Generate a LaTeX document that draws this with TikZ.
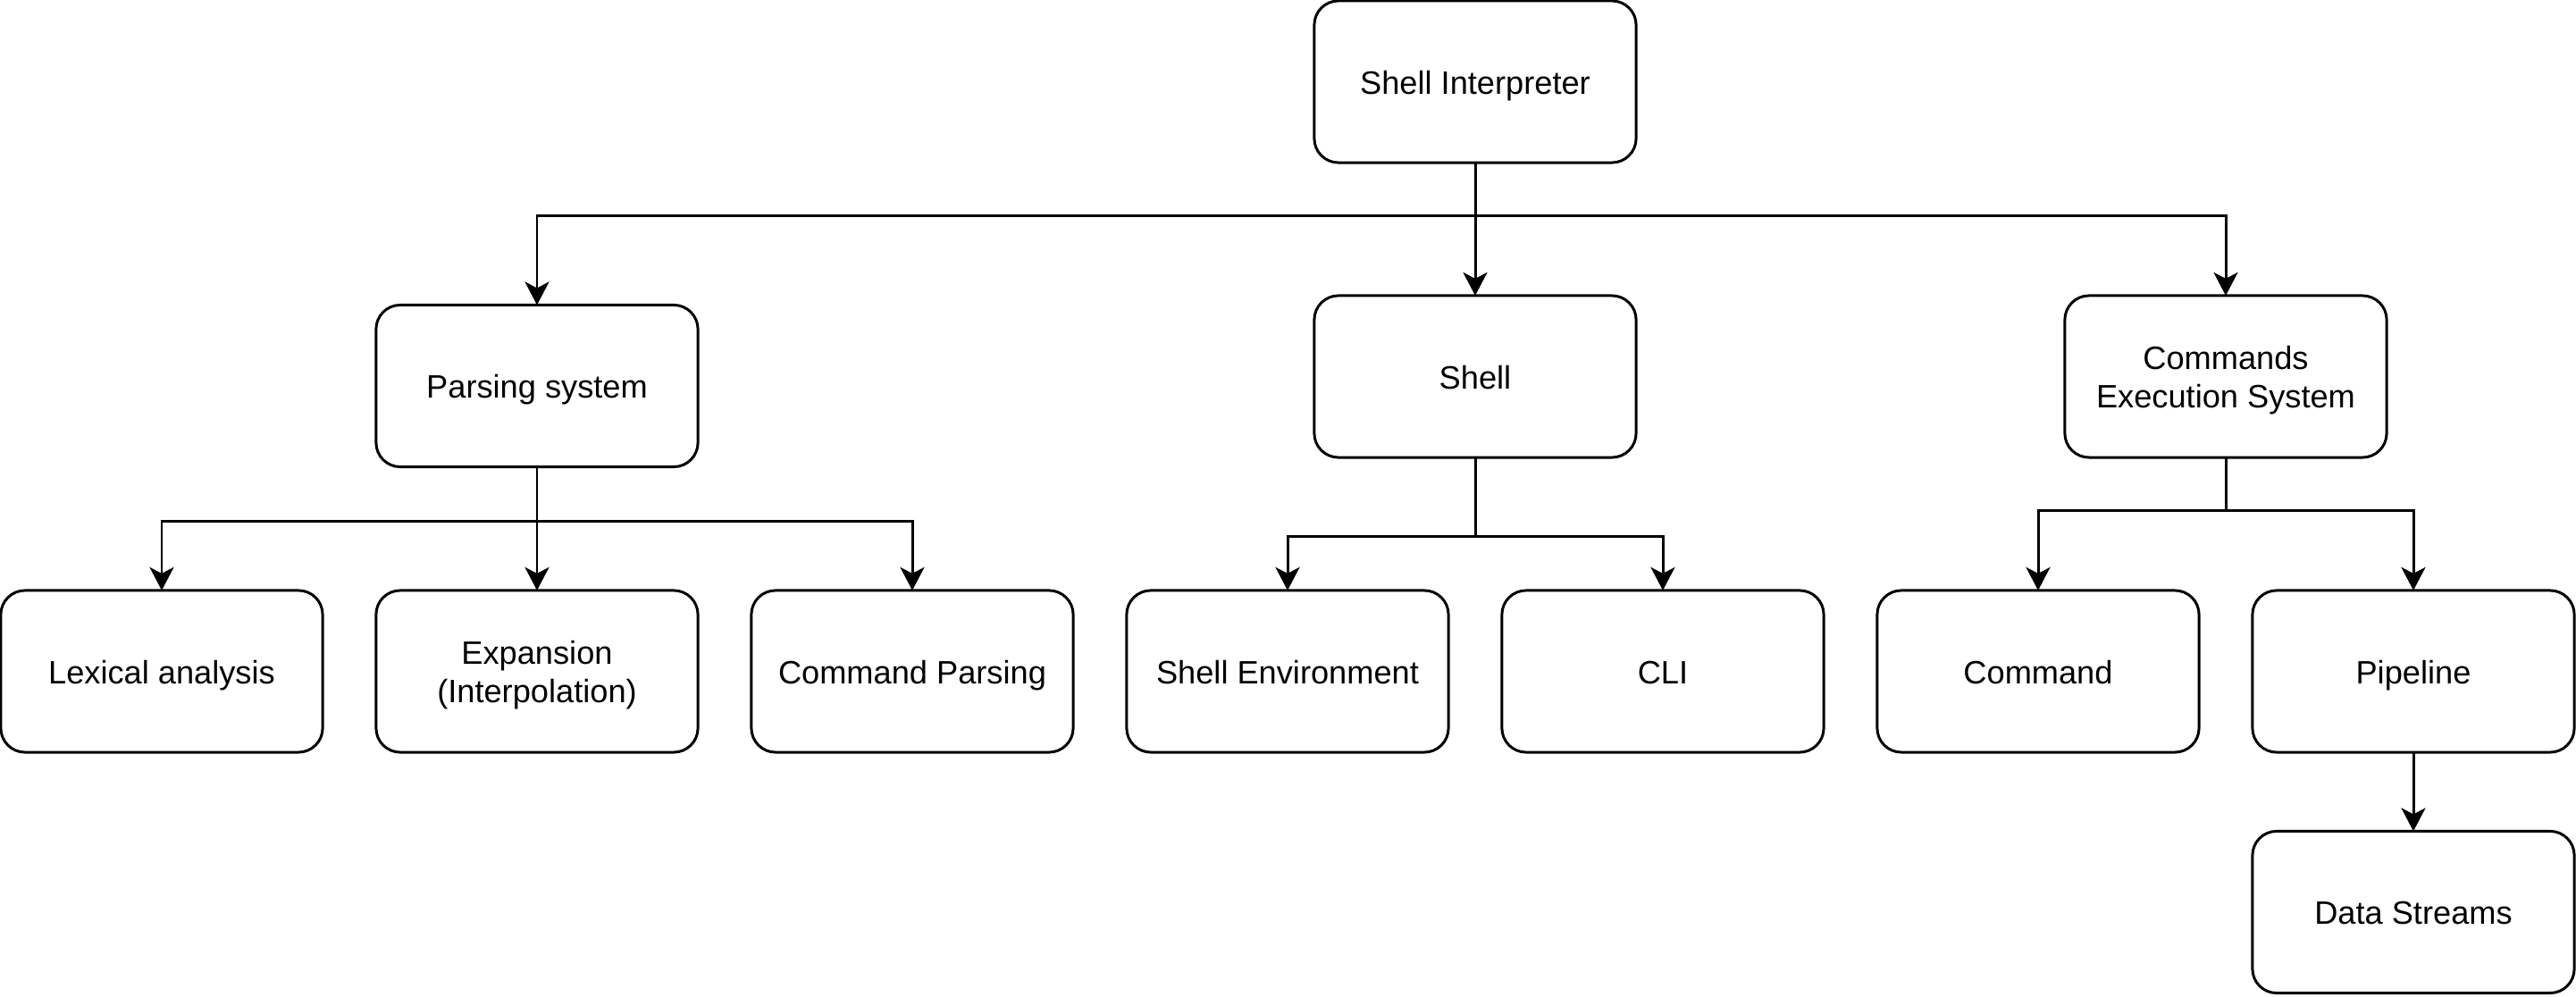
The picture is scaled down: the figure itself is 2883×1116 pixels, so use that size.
\documentclass[tikz,border=0pt]{standalone}
\usepackage{fontspec}
\setmainfont{Liberation Sans}
\usetikzlibrary{arrows.meta}
\newcommand\bxs{\rule[-0.2em]{0pt}{1.17em}}
\begin{document}
\begin{tikzpicture}[x=0.01cm,y=-0.01cm,
  box/.style={draw=black, line width=0.85pt, rounded corners=0.27cm, fill=white,
    minimum width=3.6cm, minimum height=1.81cm, inner sep=0pt, outer sep=0pt,
    align=center, font=\fontsize{10.3}{12.2}\selectfont},
  conn/.style={draw=black, line width=0.85pt, -{Stealth[length=0.26cm,width=0.27cm,inset=0.07cm]}}]
\useasboundingbox (0,0) rectangle (2883,1116);
% top
\node[box] (si) at (1651,91.5) {\bxs Shell Interpreter};
% level 2
\node[box] (ps) at (601,432) {\bxs Parsing system};
\node[box] (sh) at (1651,421.5) {\bxs Shell};
\node[box] (ces) at (2491,421.5) {\bxs Commands\\\bxs Execution System};
% level 3
\node[box] (lex) at (181,751.5) {\bxs Lexical analysis};
\node[box] (exp) at (601,751.5) {\bxs Expansion\\\bxs (Interpolation)};
\node[box] (cp) at (1021,751.5) {\bxs Command Parsing};
\node[box] (se) at (1441,751.5) {\bxs Shell Environment};
\node[box] (cli) at (1861,751.5) {\bxs CLI};
\node[box] (cmd) at (2281,751.5) {\bxs Command};
\node[box] (pip) at (2701,751.5) {\bxs Pipeline};
\node[box] (ds) at (2701,1021) {\bxs Data Streams};
% connectors
\draw[conn] (si.south) |- (601,242) -- (ps.north);
\draw[conn] (si.south) -- (sh.north);
\draw[conn] (si.south) |- (2491,242) -- (ces.north);
\draw[conn] (ps.south) |- (181,584) -- (lex.north);
\draw[conn] (ps.south) -- (exp.north);
\draw[conn] (ps.south) |- (1021,584) -- (cp.north);
\draw[conn] (sh.south) |- (1441,601) -- (se.north);
\draw[conn] (sh.south) |- (1861,601) -- (cli.north);
\draw[conn] (ces.south) |- (2281,572) -- (cmd.north);
\draw[conn] (ces.south) |- (2701,572) -- (pip.north);
\draw[conn] (pip.south) -- (ds.north);
\end{tikzpicture}
\end{document}
